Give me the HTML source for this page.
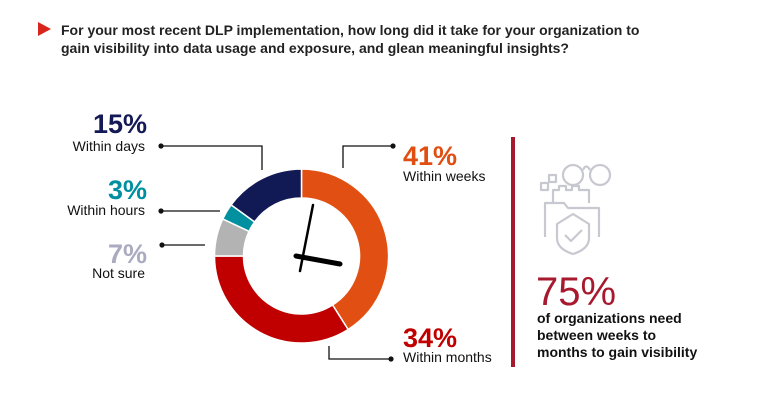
<!DOCTYPE html>
<html><head><meta charset="utf-8"><style>
body{margin:0;width:760px;height:402px;background:#fff;font-family:"Liberation Sans",sans-serif;overflow:hidden;position:relative}
svg{position:absolute;left:0;top:0}
</style></head><body>
<svg width="760" height="402">
<polygon points="38,22 51,29 38,36" fill="#d9261c"/>
<text x="61" y="35" font-size="14" font-weight="bold" fill="#222">For your most recent DLP implementation, how long did it take for your organization to</text>
<text x="61" y="53" font-size="14" font-weight="bold" fill="#222">gain visibility into data usage and exposure, and glean meaningful insights?</text>
<g id="donut"></g>
<g>
<line x1="300" y1="271" x2="313" y2="205" stroke="#000" stroke-width="2.5" stroke-linecap="round"/>
<line x1="296" y1="256" x2="340" y2="264" stroke="#000" stroke-width="5" stroke-linecap="round"/>
</g>
<g font-size="14" fill="#111">
<text x="147" y="133" font-size="27" font-weight="bold" fill="#141a55" text-anchor="end">15%</text>
<text x="145" y="151" text-anchor="end">Within days</text>
<text x="147" y="199" font-size="27" font-weight="bold" fill="#008fa0" text-anchor="end">3%</text>
<text x="145" y="215" text-anchor="end">Within hours</text>
<text x="147" y="263" font-size="27" font-weight="bold" fill="#a9abc0" text-anchor="end">7%</text>
<text x="145" y="278" text-anchor="end">Not sure</text>
<text x="403" y="165" font-size="27" font-weight="bold" fill="#e04e12">41%</text>
<text x="403" y="181">Within weeks</text>
<text x="403" y="347" font-size="27" font-weight="bold" fill="#c00000">34%</text>
<text x="403" y="362">Within months</text>
</g>
<g stroke="#111" stroke-width="1.3" fill="none">
<polyline points="161,146 262,146 262,170"/>
<line x1="161" y1="211" x2="220" y2="211"/>
<line x1="162" y1="245" x2="205" y2="245"/>
<polyline points="393,146 343,146 343,168"/>
<polyline points="329,346 329,359 391,359"/>
</g>
<g fill="#111">
<circle cx="161" cy="146" r="2.6"/><circle cx="161" cy="211" r="2.6"/><circle cx="162" cy="245" r="2.6"/>
<circle cx="393" cy="146" r="2.6"/><circle cx="391" cy="359" r="2.6"/>
</g>
<rect x="511" y="137" width="4" height="230" fill="#a6192e"/>
<g stroke="#c8c9d0" stroke-width="2.2" fill="none" stroke-linejoin="round">
<circle cx="573" cy="175" r="10"/><circle cx="600" cy="175" r="10"/><path d="M583,170 Q586,163 590,170"/>
<rect x="541" y="183" width="7" height="7"/><rect x="549" y="175" width="7" height="7"/>
<path d="M553,203 V190 H559 V186 H566 V190 H572 V186 H579 V190 H589 V203"/>
<path d="M545,237 V203 H564 L568,208 H599 V237"/>
<path d="M557,224 L573,214 L589,224 V238 Q589,249 573,254 Q557,249 557,238 Z"/>
<path d="M565,235 L571,241 L582,230"/>
</g>
<text x="536" y="305" font-size="40" fill="#a6192e">75%</text>
<g font-size="14" font-weight="bold" fill="#111">
<text x="537" y="323">of organizations need</text>
<text x="537" y="340">between weeks to</text>
<text x="537" y="357">months to gain visibility</text>
</g>
</svg>
<script>
const categories=["Within weeks","Within months","Not sure","Within hours","Within days"];
const values=[41,34,7,3,15];
const colors=["#e24f12","#c00000","#b3b3b3","#00909f","#121a55"];
const cx=301.5,cy=256,R=87,r=58;
const g=document.getElementById('donut');
const total=values.reduce((a,b)=>a+b,0);
let acc=0;
function pt(rad,f){const a=f*2*Math.PI-Math.PI/2;return [cx+rad*Math.cos(a),cy+rad*Math.sin(a)];}
values.forEach((v,i)=>{
 const f0=acc/total,f1=(acc+v)/total;acc+=v;
 const [x0,y0]=pt(R,f0),[x1,y1]=pt(R,f1),[x2,y2]=pt(r,f1),[x3,y3]=pt(r,f0);
 const large=(f1-f0)>0.5?1:0;
 const p=document.createElementNS('http://www.w3.org/2000/svg','path');
 p.setAttribute('d',`M${x0},${y0}A${R},${R} 0 ${large} 1 ${x1},${y1}L${x2},${y2}A${r},${r} 0 ${large} 0 ${x3},${y3}Z`);
 p.setAttribute('fill',colors[i]);p.setAttribute('stroke','#fff');p.setAttribute('stroke-width','1.5');
 
 
 g.appendChild(p);
});
</script>
</body></html>
